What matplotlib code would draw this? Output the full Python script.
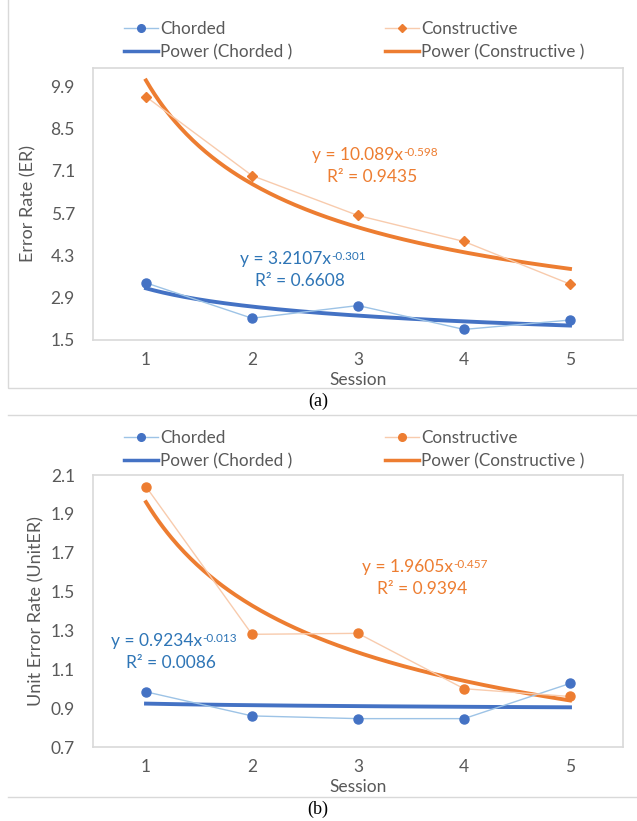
import matplotlib.pyplot as plt
import numpy as np
from matplotlib.lines import Line2D

plt.rcParams['font.family'] = ['Lato', 'DejaVu Sans']

# Daten
sessions = [1, 2, 3, 4, 5]
er_chorded = [3.39, 2.22, 2.64, 1.85, 2.16]
er_constructive = [9.55, 6.94, 5.62, 4.76, 3.35]
uer_chorded = [0.984, 0.860, 0.846, 0.846, 1.027]
uer_constructive = [2.04, 1.28, 1.285, 1.00, 0.96]

# Power-Trendlinien y = a * x^b (Koeffizienten aus den Beschriftungen)
fit_er_chorded = (3.2107, -0.301, 0.6608)
fit_er_constructive = (10.089, -0.598, 0.9435)
fit_uer_chorded = (0.9234, -0.013, 0.0086)
fit_uer_constructive = (1.9605, -0.457, 0.9394)

er_ticks = [1.5, 2.9, 4.3, 5.7, 7.1, 8.5, 9.9]
uer_ticks = [0.7, 0.9, 1.1, 1.3, 1.5, 1.7, 1.9, 2.1]

# Farben
blue = '#4472C4'
blue_light = '#9DC3E6'
blue_text = '#2E75B6'
orange = '#ED7D31'
orange_light = '#F8CBAD'
gray_text = '#595959'
border = '#D9D9D9'

W, H = 637, 821
fig = plt.figure(figsize=(W / 100, H / 100), dpi=100)


def px_axes(left, top, right, bottom):
    return fig.add_axes([left / W, 1 - bottom / H, (right - left) / W, (bottom - top) / H])


def equation(xc, yc, fit, color):
    # Grundtext + kleiner Exponent direkt rechts oben daneben
    base = fig.text(xc / W, 1 - yc / H, f'y = {fit[0]}x', ha='center', va='center',
                    color=color, fontsize=12.5)
    fig.add_artist(plt.Annotation(f'{fit[1]}', xy=(1.0, 1.02), xycoords=base,
                                  ha='left', va='top', color=color, fontsize=8.5))
    fig.text((xc + 14) / W, 1 - (yc + 22) / H, f'R² = {fit[2]}', ha='center',
             va='center', color=color, fontsize=12.5)


def draw_panel(ax, y_ch, y_co, fit_ch, fit_co, ticks, ylim, ylabel, marker_co):
    ax.plot(sessions, y_ch, color=blue_light, linewidth=1, marker='o',
            markersize=6.5, markerfacecolor=blue, markeredgecolor=blue, zorder=3)
    ax.plot(sessions, y_co, color=orange_light, linewidth=1, marker=marker_co,
            markersize=6.5 if marker_co == 'o' else 5,
            markerfacecolor=orange, markeredgecolor=orange, zorder=3)

    xs = np.linspace(1, 5, 200)
    ax.plot(xs, fit_ch[0] * xs ** fit_ch[1], color=blue, linewidth=2.8, zorder=2)
    ax.plot(xs, fit_co[0] * xs ** fit_co[1], color=orange, linewidth=2.8, zorder=2)

    ax.set_xlim(0.5, 5.5)
    ax.set_ylim(*ylim)
    ax.set_xticks(sessions)
    ax.set_yticks(ticks)
    ax.set_yticklabels([f'{t:.1f}' for t in ticks])
    ax.tick_params(axis='y', length=0, pad=13, labelsize=12.5, labelcolor=gray_text)
    ax.tick_params(axis='x', length=0, pad=8.5, labelsize=12.5, labelcolor=gray_text)
    for s in ax.spines.values():
        s.set_color(border)
        s.set_linewidth(1.2)

    ax.set_xlabel('Session', fontsize=12.5, color=gray_text, va='center')
    ax.xaxis.set_label_coords(0.5, -40 / 272)
    ax.set_ylabel(ylabel, fontsize=13, color=gray_text)


# --- Panel (a) ---
ax1 = px_axes(93, 68, 623, 340)
draw_panel(ax1, er_chorded, er_constructive, fit_er_chorded, fit_er_constructive,
           er_ticks, (1.5, 10.5), 'Error Rate (ER)', 'D')
ax1.yaxis.set_label_coords(-0.107, 0.5)
equation(358, 155, fit_er_constructive, orange)
equation(286, 259, fit_er_chorded, blue_text)

# --- Panel (b) ---
ax2 = px_axes(93, 475, 623, 747)
draw_panel(ax2, uer_chorded, uer_constructive, fit_uer_chorded, fit_uer_constructive,
           uer_ticks, (0.7, 2.1), 'Unit Error Rate (UnitER)', 'o')
ax2.yaxis.set_label_coords(-0.092, 0.5)
equation(408, 567, fit_uer_constructive, orange)
equation(157, 641, fit_uer_chorded, blue_text)


# Legenden (zwei Spalten als getrennte Legenden)
def add_legends(top_px, marker_co):
    h_ch = Line2D([], [], color=blue_light, lw=1, marker='o', markersize=5.5,
                  markerfacecolor=blue, markeredgecolor=blue)
    h_pch = Line2D([], [], color=blue, lw=2.5)
    h_co = Line2D([], [], color=orange_light, lw=1, marker=marker_co,
                  markersize=5.5 if marker_co == 'o' else 4.5,
                  markerfacecolor=orange, markeredgecolor=orange)
    h_pco = Line2D([], [], color=orange, lw=2.5)
    kw = dict(frameon=False, fontsize=12.3, labelcolor=gray_text, handlelength=2.0,
              handletextpad=0.1, labelspacing=0.42, borderpad=0, borderaxespad=0,
              loc='upper left')
    leg1 = fig.legend([h_ch, h_pch], ['Chorded', 'Power (Chorded )'],
                      bbox_to_anchor=(124 / W, 1 - top_px / H), **kw)
    leg2 = fig.legend([h_co, h_pco], ['Constructive', 'Power (Constructive )'],
                      bbox_to_anchor=(385 / W, 1 - top_px / H), **kw)
    return leg1, leg2


add_legends(21, 'D')
add_legends(430, 'o')

# Rahmen der Diagrammbereiche
fig.add_artist(plt.Rectangle((8 / W, 1 - 388 / H), 1.0, 388 / H + 0.01,
                             transform=fig.transFigure, fill=False, edgecolor=border, lw=1))
fig.add_artist(Line2D([8 / W, 1], [1 - 415 / H] * 2, transform=fig.transFigure,
                      color=border, lw=1))
fig.add_artist(Line2D([8 / W, 1], [1 - 797 / H] * 2, transform=fig.transFigure,
                      color=border, lw=1))

# Unterschriften
fig.text(318 / W, 1 - 401 / H, '(a)', ha='center', va='center',
         fontfamily='Liberation Serif', fontsize=13)
fig.text(318 / W, 1 - 809 / H, '(b)', ha='center', va='center',
         fontfamily='Liberation Serif', fontsize=13)

plt.savefig('out.png', dpi=100)
